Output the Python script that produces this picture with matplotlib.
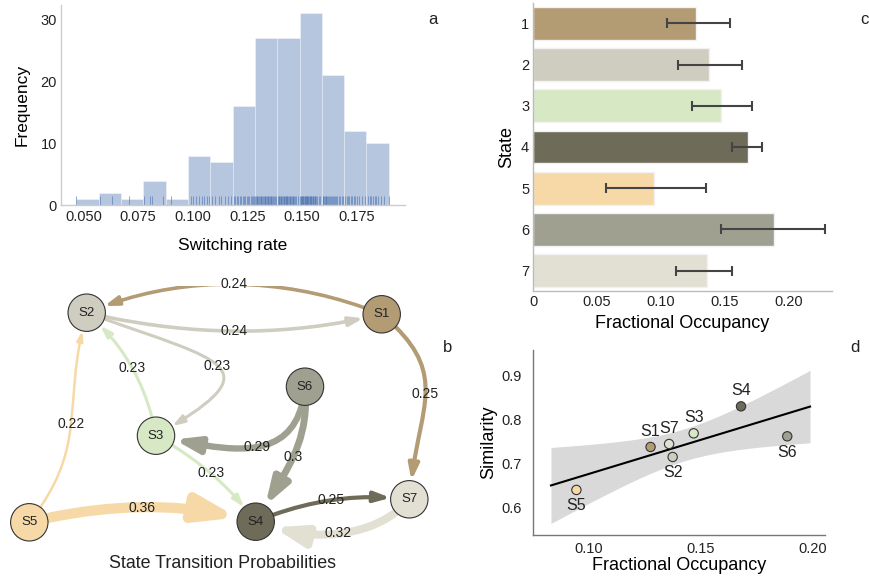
import numpy as np
import matplotlib.pyplot as plt
from matplotlib.patches import Circle, FancyArrowPatch
from matplotlib.path import Path
from matplotlib.ticker import FormatStrFormatter
from matplotlib import transforms

plt.rcParams['font.family'] = ['Liberation Sans', 'DejaVu Sans']
plt.rcParams['text.color'] = '#222222'
plt.rcParams['xtick.color'] = '#222222'
plt.rcParams['ytick.color'] = '#222222'

# a: switching rate of each subject
switching_rate = [
    0.0468,
    0.0576, 0.0631,
    0.0710,
    0.0779, 0.0805, 0.0813, 0.0866,
    0.0902,
    0.0991, 0.1000, 0.1015, 0.1028, 0.1041, 0.1052, 0.1064, 0.1073,
    0.1087, 0.1102, 0.1118, 0.1131, 0.1146, 0.1160, 0.1174,
    0.1188, 0.1194, 0.1201, 0.1207, 0.1215, 0.1222, 0.1228, 0.1233,
    0.1239, 0.1246, 0.1251, 0.1258, 0.1264, 0.1269, 0.1275, 0.1280,
    0.1286, 0.1289, 0.1293, 0.1295, 0.1299, 0.1304, 0.1306, 0.1311, 0.1314,
    0.1316, 0.1321, 0.1325, 0.1328, 0.1330, 0.1336, 0.1339, 0.1342, 0.1346,
    0.1348, 0.1353, 0.1357, 0.1359, 0.1364, 0.1367, 0.1372, 0.1376, 0.1381,
    0.1389, 0.1392, 0.1394, 0.1398, 0.1402, 0.1405, 0.1407, 0.1411, 0.1415,
    0.1418, 0.1420, 0.1424, 0.1427, 0.1431, 0.1433, 0.1436, 0.1440, 0.1443,
    0.1446, 0.1449, 0.1452, 0.1456, 0.1459, 0.1463, 0.1468, 0.1474, 0.1481,
    0.1490, 0.1493, 0.1495, 0.1498, 0.1500, 0.1503, 0.1505, 0.1508, 0.1511,
    0.1513, 0.1516, 0.1518, 0.1521, 0.1524, 0.1526, 0.1529, 0.1531, 0.1534,
    0.1537, 0.1540, 0.1542, 0.1545, 0.1548, 0.1551, 0.1554, 0.1557, 0.1560,
    0.1564, 0.1569, 0.1575, 0.1583,
    0.1593, 0.1597, 0.1600, 0.1604, 0.1607, 0.1611, 0.1615, 0.1618, 0.1622,
    0.1627, 0.1631, 0.1636, 0.1641, 0.1645, 0.1650, 0.1655, 0.1661, 0.1667,
    0.1673, 0.1680, 0.1687,
    0.1697, 0.1703, 0.1710, 0.1716, 0.1722, 0.1729, 0.1735, 0.1743, 0.1752,
    0.1761, 0.1773, 0.1788,
    0.1799, 0.1808, 0.1815, 0.1823, 0.1831, 0.1839, 0.1848, 0.1859, 0.1874,
    0.1896,
]

# c: fractional occupancy per state (mean and CI)
states = ['1', '2', '3', '4', '5', '6', '7']
occupancy = [0.1276, 0.1375, 0.1469, 0.1681, 0.0944, 0.1888, 0.1359]
occ_low = [0.1051, 0.1135, 0.1242, 0.1561, 0.0567, 0.1472, 0.1122]
occ_high = [0.1542, 0.1637, 0.1718, 0.1796, 0.1352, 0.2290, 0.1556]
state_colors = ['#b39b74', '#cfcdc0', '#d6e9c4', '#6e6b59',
                '#f6d9a6', '#9fa090', '#e2dfd3']

# d: similarity per state
state_names = ['S1', 'S2', 'S3', 'S4', 'S5', 'S6', 'S7']
similarity = [0.7375, 0.7147, 0.7686, 0.8301, 0.6396, 0.7618, 0.7443]
label_above = [True, False, True, True, False, False, True]

# b: transition graph (layout + edges)
node_x = [381.7, 86.7, 156.0, 255.7, 29.3, 305.0, 409.3]
node_y = [261.7, 263.3, 140.3, 54.3, 53.7, 189.3, 76.7]
edge_src = ['S1', 'S2', 'S2', 'S3', 'S5', 'S1', 'S6', 'S6', 'S3', 'S5', 'S4', 'S7']
edge_dst = ['S2', 'S1', 'S3', 'S2', 'S2', 'S7', 'S3', 'S4', 'S4', 'S4', 'S7', 'S4']
edge_prob = [0.24, 0.24, 0.23, 0.23, 0.22, 0.25, 0.29, 0.3, 0.23, 0.36, 0.25, 0.32]
# leaving angle, arriving angle, looseness
edge_bend = [(158, 22, 0.35), (-13, 193, 0.35), (-20, 30, 1.0), (100, -41, 0.35),
             (52, -105, 0.45), (-40, 85, 0.5), (-95, -12, 0.5), (-85, 60, 0.4),
             (-29, 127, 0.35), (14, 166, 0.35), (23, 174, 0.35), (-130, -20, 0.35)]

fig = plt.figure(figsize=(8.7, 5.76), dpi=100)


def px(l, t, r, b):
    return [l / 870, 1 - b / 576, (r - l) / 870, (b - t) / 576]


def style_axes(ax, spine_color):
    for s in ['top', 'right']:
        ax.spines[s].set_visible(False)
    for s in ['left', 'bottom']:
        ax.spines[s].set_color(spine_color)
        ax.spines[s].set_linewidth(1.0)
    ax.tick_params(length=0, labelsize=10.5, pad=3)


# ---- a: histogram
ax_a = fig.add_axes(px(61, 5, 405, 205.5))
ax_a.hist(switching_rate, bins=14, color='#4c72b0', alpha=0.4,
          edgecolor='white', linewidth=0.6)
trans = transforms.blended_transform_factory(ax_a.transData, ax_a.transAxes)
ax_a.vlines(switching_rate, 0, 0.045, transform=trans, color='#4c72b0',
            linewidth=0.7, alpha=0.6)
ax_a.set_xlim(0.0398, 0.197)
ax_a.set_ylim(0, 32.3)
ax_a.set_xticks([0.05, 0.075, 0.1, 0.125, 0.15, 0.175])
ax_a.xaxis.set_major_formatter(FormatStrFormatter('%.3f'))
ax_a.set_yticks([0, 10, 20, 30])
ax_a.set_xlabel('Switching rate', fontsize=12.5, labelpad=10)
ax_a.set_ylabel('Frequency', fontsize=12.5, labelpad=8)
style_axes(ax_a, '#cccccc')

# ---- c: fractional occupancy bars
ax_c = fig.add_axes(px(533.3, 2.7, 831.7, 291.3))
ypos = np.arange(len(states))
occ = np.array(occupancy)
ax_c.barh(ypos, occ, height=0.8, color=state_colors, edgecolor='#f2f2f2', linewidth=1)
ax_c.errorbar(occ, ypos, xerr=[occ - np.array(occ_low), np.array(occ_high) - occ],
              fmt='none', ecolor='#444444', elinewidth=1.5, capsize=3.5, capthick=1.5)
ax_c.set_ylim(6.5, -0.5)
ax_c.set_xlim(0, 0.234)
ax_c.set_yticks(ypos)
ax_c.set_yticklabels(states)
ax_c.set_xticks([0, 0.05, 0.1, 0.15, 0.2])
ax_c.set_xticklabels(['0', '0.05', '0.10', '0.15', '0.20'])
ax_c.set_xlabel('Fractional Occupancy', fontsize=13, labelpad=4)
ax_c.set_ylabel('State', fontsize=13, labelpad=4)
style_axes(ax_c, '#bbbbbb')

# ---- d: occupancy vs similarity
ax_d = fig.add_axes(px(533.3, 350, 825, 535.3))
x = occ
y = np.array(similarity)
slope, icpt = np.polyfit(x, y, 1)
n = len(x)
resid = y - (slope * x + icpt)
s = np.sqrt(np.sum(resid ** 2) / (n - 2))
sxx = np.sum((x - x.mean()) ** 2)
xs = np.linspace(0.083, 0.199, 100)
fit = slope * xs + icpt
se = s * np.sqrt(1 / n + (xs - x.mean()) ** 2 / sxx)
ax_d.fill_between(xs, fit - 2.571 * se, fit + 2.571 * se, color='black', alpha=0.15, lw=0)
ax_d.plot(xs, fit, color='black', lw=1.5)
ax_d.scatter(x, y, s=45, c=state_colors, edgecolors='#333333', linewidths=0.8, zorder=3)
for xi, yi, name, up in zip(x, y, state_names, label_above):
    ax_d.annotate(name, (xi, yi), xytext=(0, 6 if up else -6), textcoords='offset points',
                  ha='center', va='bottom' if up else 'top', fontsize=11.5)
ax_d.set_xlim(0.0751, 0.2057)
ax_d.set_ylim(0.5362, 0.9585)
ax_d.set_xticks([0.1, 0.15, 0.2])
ax_d.set_xticklabels(['0.10', '0.15', '0.20'])
ax_d.set_yticks([0.6, 0.7, 0.8, 0.9])
ax_d.set_xlabel('Fractional Occupancy', fontsize=13, labelpad=0.5)
ax_d.set_ylabel('Similarity', fontsize=13, labelpad=3)
style_axes(ax_d, '#777777')
ax_d.tick_params(axis='x', pad=5)
ax_d.tick_params(axis='y', pad=8)

# ---- b: transition graph
ax_b = fig.add_axes(px(0, 286, 470, 576))
ax_b.set_xlim(0, 470)
ax_b.set_ylim(0, 290)
ax_b.axis('off')

R = 18.7
pos = {nm: np.array([nx, ny]) for nm, nx, ny in zip(state_names, node_x, node_y)}
col = dict(zip(state_names, state_colors))


def bez(P, t):
    t = np.asarray(t)[:, None]
    return ((1 - t) ** 3 * P[0] + 3 * (1 - t) ** 2 * t * P[1]
            + 3 * (1 - t) * t ** 2 * P[2] + t ** 3 * P[3])


def split(P, t):
    p01 = P[0] + (P[1] - P[0]) * t
    p12 = P[1] + (P[2] - P[1]) * t
    p23 = P[2] + (P[3] - P[2]) * t
    p012 = p01 + (p12 - p01) * t
    p123 = p12 + (p23 - p12) * t
    p = p012 + (p123 - p012) * t
    return np.array([P[0], p01, p012, p]), np.array([p, p123, p23, P[3]])


for src, dst, p, (a_out, a_in, k) in zip(edge_src, edge_dst, edge_prob, edge_bend):
    p0, p3 = pos[src], pos[dst]
    L = k * np.hypot(*(p3 - p0))
    c1 = p0 + L * np.array([np.cos(np.radians(a_out)), np.sin(np.radians(a_out))])
    c2 = p3 + L * np.array([np.cos(np.radians(a_in)), np.sin(np.radians(a_in))])
    P = np.array([p0, c1, c2, p3])
    ts = np.linspace(0, 1, 2001)
    pts = bez(P, ts)
    t0 = ts[np.argmax(np.hypot(*(pts - p0).T) >= R)]
    t1 = ts[len(ts) - 1 - np.argmax(np.hypot(*(pts - p3).T)[::-1] >= R)]
    left, _ = split(P, t1)
    _, seg = split(left, t0 / t1)
    lw = 0.72 * (2.5 + (p - 0.22) * 55)
    arrow = FancyArrowPatch(path=Path(seg, [Path.MOVETO, Path.CURVE4, Path.CURVE4, Path.CURVE4]),
                            arrowstyle='-|>,head_length=0.7,head_width=0.23',
                            mutation_scale=4.5 * lw, lw=lw, color=col[src], zorder=1)
    ax_b.add_patch(arrow)
    mid = bez(P, [0.5])[0]
    ax_b.text(mid[0], mid[1], f'{p:g}', fontsize=10, ha='center', va='center', zorder=4)

for nm in state_names:
    ax_b.add_patch(Circle(pos[nm], R, facecolor=col[nm], edgecolor='#333333', lw=0.8, zorder=3))
    ax_b.text(pos[nm][0], pos[nm][1], nm, fontsize=9.5, ha='center', va='center', zorder=4)

ax_b.text(223, 12.7, 'State Transition Probabilities', fontsize=12.9, ha='center', va='center')

# panel letters
for letter, lx, ly in [('a', 433, 20), ('c', 864, 20), ('b', 447.7, 347), ('d', 855, 347)]:
    fig.text(lx / 870, 1 - ly / 576, letter, fontsize=12, ha='center', va='center')

fig.savefig('out.png', dpi=100)
